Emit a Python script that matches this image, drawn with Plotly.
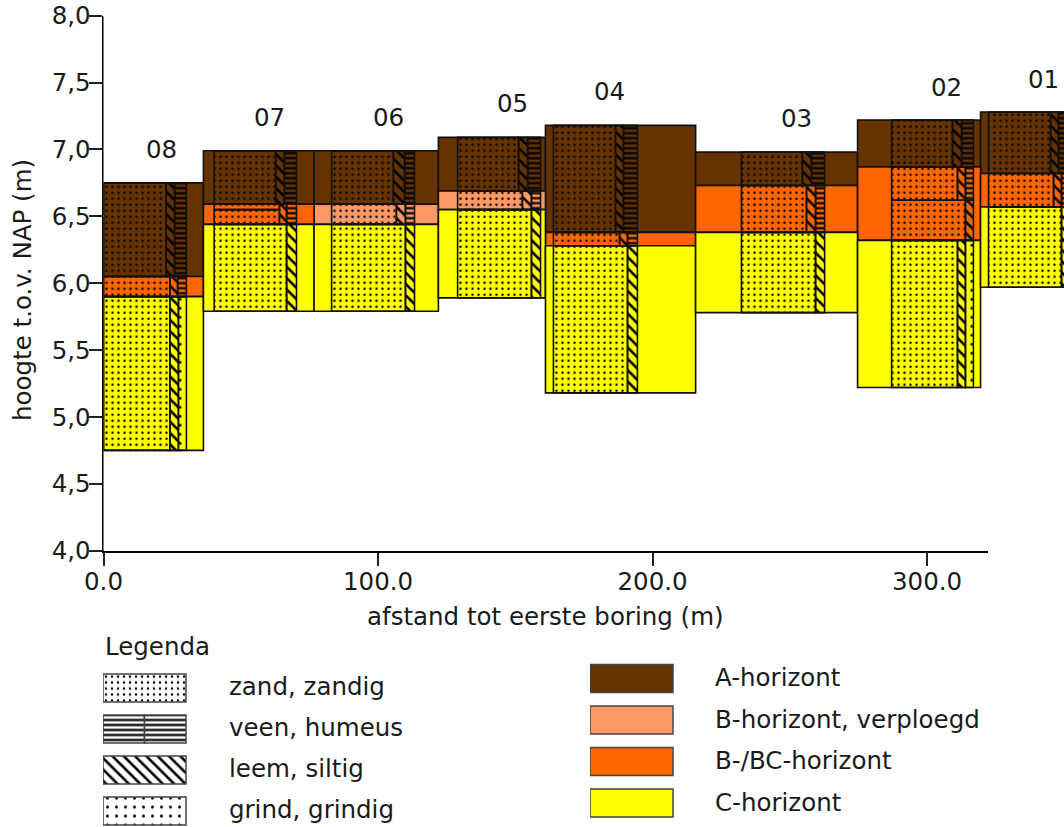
import plotly.graph_objects as go

FONT = "DejaVu Sans"
TXT = "#1a1a1a"
W, H = 1064, 827

# ---- boring labels
boring_names = ["08", "07", "06", "05", "04", "03", "02", "01"]
boring_label_x = [21, 60.5, 104, 149, 184.5, 252.5, 307, 342.5]
boring_label_y = [7.0, 7.24, 7.24, 7.34, 7.43, 7.23, 7.46, 7.52]

# ---- soil horizons (metres / m NAP)
a_left = [0, 36.4, 76.7, 122, 161, 215.7, 274.7, 319.5]
a_right = [36.4, 76.7, 122, 161, 215.7, 274.7, 319.5, 365]
a_top = [6.75, 6.99, 6.99, 7.09, 7.18, 6.98, 7.22, 7.28]
a_bottom = [6.05, 6.59, 6.59, 6.69, 6.38, 6.73, 6.87, 6.82]

bv_left = [76.7, 122]
bv_right = [122, 161]
bv_top = [6.59, 6.69]
bv_bottom = [6.44, 6.55]

bc_left = [0, 36.4, 161, 215.7, 274.7, 319.5]
bc_right = [36.4, 76.7, 215.7, 274.7, 319.5, 365]
bc_top = [6.05, 6.59, 6.38, 6.73, 6.87, 6.82]
bc_bottom = [5.90, 6.44, 6.28, 6.38, 6.32, 6.57]

c_left = [0, 36.4, 76.7, 122, 161, 215.7, 274.7, 319.5]
c_right = [36.4, 76.7, 122, 161, 215.7, 274.7, 319.5, 365]
c_top = [5.90, 6.44, 6.44, 6.55, 6.28, 6.38, 6.32, 6.57]
c_bottom = [4.75, 5.79, 5.79, 5.89, 5.18, 5.78, 5.22, 5.97]

# ---- textures
zand_left = [0, 0, 0, 40.3, 40.3, 40.3, 40.3, 83.1, 83.1, 83.1, 129, 129, 129,
             163.9, 163.9, 163.9, 232.4, 232.4, 232.4, 287.1, 287.1, 287.1, 287.1,
             322.4, 322.4, 322.4]
zand_right = [22.8, 24.2, 24.2, 62.7, 64.1, 64.1, 66.7, 105.6, 106.7, 110, 151.2, 152.6, 155.9,
              186.5, 188, 190.9, 254.6, 256.1, 259.4, 309.3, 311.1, 314, 311.1,
              345, 346.1, 349]
zand_top = [6.75, 6.05, 5.90, 6.99, 6.59, 6.55, 6.44, 6.99, 6.59, 6.44, 7.09, 6.69, 6.55,
            7.18, 6.38, 6.28, 6.98, 6.73, 6.38, 7.22, 6.87, 6.62, 6.32,
            7.28, 6.82, 6.57]
zand_bottom = [6.05, 5.90, 4.75, 6.59, 6.55, 6.44, 5.79, 6.59, 6.44, 5.79, 6.69, 6.55, 5.89,
               6.38, 6.28, 5.18, 6.73, 6.38, 5.78, 6.87, 6.62, 6.32, 5.22,
               6.82, 6.57, 5.97]

leem_left = [22.8, 24.2, 24.2, 62.7, 64.1, 66.7, 105.6, 106.7, 110, 151.2, 152.6, 155.9,
             186.5, 188, 190.9, 254.6, 256.1, 259.4, 309.3, 311.1, 314, 311.1,
             345, 346.1, 349]
leem_right = [25.9, 27, 27.3, 65.9, 66.7, 70.3, 109.7, 110, 113.3, 154.5, 155.9, 159.2,
              189.4, 190.9, 194.5, 257.9, 259.4, 262.7, 312.6, 314, 316.9, 314,
              347.9, 349, 353]
leem_top = [6.75, 6.05, 5.90, 6.99, 6.59, 6.44, 6.99, 6.59, 6.44, 7.09, 6.69, 6.55,
            7.18, 6.38, 6.28, 6.98, 6.73, 6.38, 7.22, 6.87, 6.62, 6.32,
            7.28, 6.82, 6.57]
leem_bottom = [6.05, 5.90, 4.75, 6.59, 6.44, 5.79, 6.59, 6.44, 5.79, 6.69, 6.55, 5.89,
               6.38, 6.28, 5.18, 6.73, 6.38, 5.78, 6.87, 6.62, 6.32, 5.22,
               6.82, 6.57, 5.97]

veen_left = [25.9, 27, 65.9, 66.7, 109.7, 110, 154.5, 155.9, 189.4, 190.9, 257.9, 259.4,
             312.6, 314, 347.9, 349]
veen_right = [30.2, 30.2, 70.3, 70.3, 113.3, 113.3, 159.2, 159.2, 194.5, 194.5, 262.7, 262.7,
              316.9, 316.9, 353, 353]
veen_top = [6.75, 6.05, 6.99, 6.59, 6.99, 6.59, 7.09, 6.69, 7.18, 6.38, 6.98, 6.73,
            7.22, 6.87, 7.28, 6.82]
veen_bottom = [6.05, 5.90, 6.59, 6.44, 6.59, 6.44, 6.69, 6.55, 6.38, 6.28, 6.73, 6.38,
               6.87, 6.62, 6.82, 6.57]

grind_left = [27.3, 314]
grind_right = [30.2, 316.9]
grind_top = [5.90, 6.32]
grind_bottom = [4.75, 5.22]

# ---- axes labels
x_ticks = [0, 100, 200, 300]
x_labels = ["0.0", "100.0", "200.0", "300.0"]
y_ticks = [4, 4.5, 5, 5.5, 6, 6.5, 7, 7.5, 8]
y_labels = ["4,0", "4,5", "5,0", "5,5", "6,0", "6,5", "7,0", "7,5", "8,0"]

# ---- legends
texture_names = ["zand, zandig", "veen, humeus", "leem, siltig", "grind, grindig"]
horizon_names = ["A-horizont", "B-horizont, verploegd", "B-/BC-horizont", "C-horizont"]

COL_A, COL_BV, COL_BC, COL_C = "#663300", "#ff9966", "#ff6600", "#ffff00"
PATTERNS = {
    "zand": dict(shape=".", size=6, solidity=0.13, fgcolor="black", fgopacity=1, fillmode="overlay"),
    "grind": dict(shape=".", size=9, solidity=0.09, fgcolor="black", fgopacity=1, fillmode="overlay"),
    "leem": dict(shape="\\", size=8, solidity=0.32, fgcolor="black", fgopacity=1, fillmode="overlay"),
    "veen": dict(shape="-", size=5, solidity=0.45, fgcolor="black", fgopacity=1, fillmode="overlay"),
}

fig = go.Figure()
# keeps the visible x axis (0-322 m) drawn; the marks live on the longer second axis
fig.add_trace(go.Scatter(x=[None], y=[None], xaxis="x", yaxis="y", showlegend=False, hoverinfo="skip"))


def rects(name, left, right, top, bottom, color, pattern=None):
    marker = dict(color=color, line=dict(color="#111111", width=1.6))
    if pattern:
        marker["pattern"] = pattern
    fig.add_trace(go.Bar(
        name=name,
        x=[(l + r) / 2 for l, r in zip(left, right)],
        width=[r - l for l, r in zip(left, right)],
        base=bottom,
        y=[t - b for t, b in zip(top, bottom)],
        marker=marker, xaxis="x2", yaxis="y", showlegend=False, hoverinfo="skip",
    ))


TRANSPARENT = "rgba(0,0,0,0)"
rects("A-horizont", a_left, a_right, a_top, a_bottom, COL_A)
rects("B-horizont, verploegd", bv_left, bv_right, bv_top, bv_bottom, COL_BV)
rects("B-/BC-horizont", bc_left, bc_right, bc_top, bc_bottom, COL_BC)
rects("C-horizont", c_left, c_right, c_top, c_bottom, COL_C)
rects("zand", zand_left, zand_right, zand_top, zand_bottom, TRANSPARENT, PATTERNS["zand"])
rects("leem", leem_left, leem_right, leem_top, leem_bottom, TRANSPARENT, PATTERNS["leem"])
rects("veen", veen_left, veen_right, veen_top, veen_bottom, TRANSPARENT, PATTERNS["veen"])
rects("grind", grind_left, grind_right, grind_top, grind_bottom, TRANSPARENT, PATTERNS["grind"])

# legend swatches
SW_LINE = dict(color="#444444", width=1.5)
for nm, key in zip(texture_names, ["zand", "veen", "leem", "grind"]):
    halves = key == "veen"
    fig.add_trace(go.Bar(
        y=[nm, nm] if halves else [nm], x=[0.5, 0.5] if halves else [1],
        base=[0, 0.5] if halves else [0], orientation="h", width=0.68,
        marker=dict(color="white", line=SW_LINE, pattern=PATTERNS[key]),
        xaxis="x3", yaxis="y3", showlegend=False, hoverinfo="skip"))
for nm, col in zip(horizon_names, [COL_A, COL_BV, COL_BC, COL_C]):
    fig.add_trace(go.Bar(
        y=[nm], x=[1], orientation="h", width=0.67,
        marker=dict(color=col, line=SW_LINE),
        xaxis="x4", yaxis="y4", showlegend=False, hoverinfo="skip"))

annotations = [
    dict(text=n, x=x, y=y, xref="x2", yref="y", showarrow=False)
    for n, x, y in zip(boring_names, boring_label_x, boring_label_y)
]
annotations.append(dict(text="Legenda", x=103 / W, y=1 - 646 / H, xref="paper", yref="paper",
                        xanchor="left", yanchor="middle", showarrow=False))
annotations.append(dict(text="afstand tot eerste boring (m)", x=545.5 / W, y=1 - 616 / H,
                        xref="paper", yref="paper", xanchor="center", yanchor="middle",
                        showarrow=False))
annotations.append(dict(text="hoogte t.o.v. NAP (m)", x=22 / W, y=1 - 290 / H, textangle=-90,
                        xref="paper", yref="paper", xanchor="center", yanchor="middle",
                        showarrow=False))
annotations += [dict(text=n, x=124 / 83, y=n, xref="x3", yref="y3", xanchor="left",
                     yanchor="middle", yshift=2, showarrow=False) for n in texture_names]
annotations += [dict(text=n, x=123 / 83, y=n, xref="x4", yref="y4", xanchor="left",
                     yanchor="middle", yshift=1, showarrow=False) for n in horizon_names]

FS = 24.5
axis_line = dict(showline=True, linecolor="black", linewidth=2, ticks="outside",
                 ticklen=13, tickwidth=1.6, tickcolor="#222222", showgrid=False, zeroline=False,
                 tickfont=dict(size=FS, color=TXT))

fig.update_layout(
    width=W, height=H, autosize=False,
    margin=dict(l=0, r=0, t=0, b=0),
    paper_bgcolor="white", plot_bgcolor="white",
    font=dict(family=FONT, size=FS, color=TXT),
    barmode="overlay",
    annotations=annotations,
    xaxis=dict(domain=[103.5 / W, 988 / W], range=[0, 322.2], anchor="y",
               tickvals=x_ticks, ticktext=x_labels, ticklabelstandoff=-5,
               automargin=False, **axis_line),
    xaxis2=dict(domain=[103.5 / W, 1], range=[0, 349.9], anchor="y", visible=False),
    yaxis=dict(domain=[1 - 550.7 / H, 1 - 15.7 / H], range=[4, 8], anchor="x",
               tickvals=y_ticks, ticktext=y_labels, ticklabelstandoff=-7,
               automargin=False, **axis_line),
    xaxis3=dict(domain=[103 / W, 300 / W], range=[0, 197 / 83], anchor="y3", visible=False),
    yaxis3=dict(domain=[0, (H - 667.5) / H], range=[3.39, -0.5], anchor="x3",
                type="category", categoryorder="array", categoryarray=texture_names,
                showgrid=False, zeroline=False, showline=False, ticks="", showticklabels=False),
    xaxis4=dict(domain=[590 / W, 1000 / W], range=[0, 410 / 83], anchor="y4", visible=False),
    yaxis4=dict(domain=[0, (H - 657.75) / H], range=[3.578, -0.5], anchor="x4",
                type="category", categoryorder="array", categoryarray=horizon_names,
                showgrid=False, zeroline=False, showline=False, ticks="", showticklabels=False),
)

fig.write_html("out.html", config=dict(displayModeBar=False),
               post_script="document.body.style.margin='0';document.body.style.overflow='hidden';")
